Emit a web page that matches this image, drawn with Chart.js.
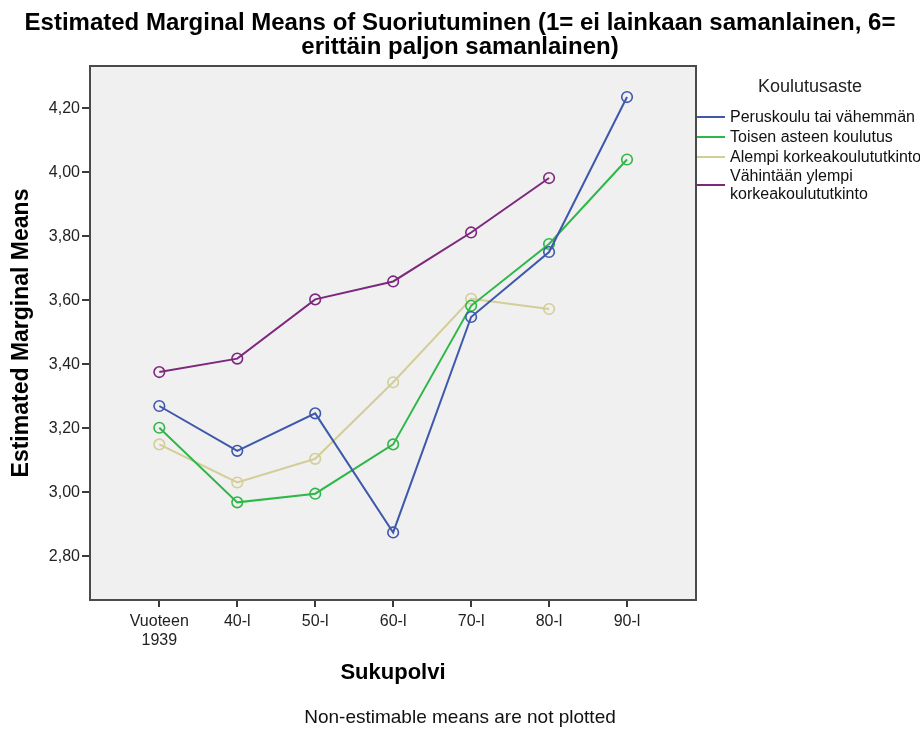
<!DOCTYPE html>
<html>
<head>
<meta charset="utf-8">
<script src="https://cdn.jsdelivr.net/npm/chart.js@4.4.1/dist/chart.umd.min.js"></script>
<style>
  html, body { margin: 0; padding: 0; background: #ffffff; }
  #wrap { width: 920px; height: 729px; position: relative; }
</style>
</head>
<body>
<div id="wrap"><canvas id="c" width="920" height="729"></canvas></div>
<script>
// ---- Data ----
const categories = ['Vuoteen 1939', '40-l', '50-l', '60-l', '70-l', '80-l', '90-l'];
const seriesNames = ['Peruskoulu tai vähemmän', 'Toisen asteen koulutus', 'Alempi korkeakoulututkinto', 'Vähintään ylempi korkeakoulututkinto'];
const peruskoulu = [3.27, 3.13, 3.247, 2.875, 3.548, 3.751, 4.235];
const toisenAsteen = [3.202, 2.969, 2.996, 3.15, 3.583, 3.776, 4.04];
const alempiKorkea = [3.15, 3.031, 3.105, 3.344, 3.605, 3.573, null];
const vahintaanYlempi = [3.376, 3.418, 3.603, 3.659, 3.812, 3.982, null];
const yTicks = [2.8, 3.0, 3.2, 3.4, 3.6, 3.8, 4.0, 4.2];

const titleLines = ['Estimated Marginal Means of Suoriutuminen (1= ei lainkaan samanlainen, 6=', 'erittäin paljon samanlainen)'];
const legendTitle = 'Koulutusaste';
const xTitle = 'Sukupolvi';
const yTitle = 'Estimated Marginal Means';
const footerText = 'Non-estimable means are not plotted';

const colors = ['#3E58AC', '#2EB848', '#D3CE97', '#7C287D'];
const seriesValues = [peruskoulu, toisenAsteen, alempiKorkea, vahintaanYlempi];
const FONT = '"Liberation Sans", Arial, sans-serif';

function toPoints(arr) {
  return arr.map((v, i) => ({ x: i, y: v }));
}

const datasets = seriesValues.map((vals, k) => ({
  label: seriesNames[k],
  data: toPoints(vals),
  borderColor: colors[k],
  backgroundColor: 'rgba(0,0,0,0)',
  borderWidth: 2,
  pointRadius: 5.3,
  pointBorderWidth: 1.6,
  pointBackgroundColor: 'rgba(0,0,0,0)',
  pointBorderColor: colors[k],
  tension: 0,
  spanGaps: false
}));

const decor = {
  id: 'decor',
  beforeDraw(chart) {
    const { ctx, chartArea: a } = chart;
    ctx.save();
    ctx.fillStyle = '#ffffff';
    ctx.fillRect(0, 0, chart.width, chart.height);
    ctx.fillStyle = '#f0f0f0';
    ctx.fillRect(a.left, a.top, a.right - a.left, a.bottom - a.top);
    ctx.restore();
  },
  afterDraw(chart) {
    const { ctx, chartArea: a } = chart;
    ctx.save();
    // plot border
    ctx.strokeStyle = '#4a4a4a';
    ctx.lineWidth = 2;
    ctx.strokeRect(a.left, a.top, a.right - a.left, a.bottom - a.top);
    // title
    ctx.fillStyle = '#000000';
    ctx.textAlign = 'center';
    ctx.textBaseline = 'alphabetic';
    ctx.font = 'bold 24px ' + FONT;
    ctx.fillText(titleLines[0], 460, 30);
    ctx.fillText(titleLines[1], 460, 54);
    // footer
    ctx.font = '19px ' + FONT;
    ctx.textBaseline = 'middle';
    ctx.fillStyle = '#111111';
    ctx.fillText(footerText, 460, 718);
    // legend
    ctx.fillStyle = '#222222';
    ctx.font = '18px ' + FONT;
    ctx.fillText(legendTitle, 810, 87);
    ctx.font = '16px ' + FONT;
    ctx.textAlign = 'left';
    const rows = [117, 137, 157, 185];
    chart.data.datasets.forEach((ds, i) => {
      const y = rows[i];
      ctx.strokeStyle = ds.borderColor;
      ctx.lineWidth = 2;
      ctx.beginPath();
      ctx.moveTo(697, y);
      ctx.lineTo(725, y);
      ctx.stroke();
      ctx.fillStyle = '#111111';
      if (i === 3) {
        ctx.fillText('Vähintään ylempi', 730, 177);
        ctx.fillText('korkeakoulututkinto', 730, 195);
      } else {
        ctx.fillText(ds.label, 730, y + 1);
      }
    });
    ctx.restore();
  }
};

new Chart(document.getElementById('c'), {
  type: 'line',
  data: { datasets },
  options: {
    responsive: false,
    animation: false,
    devicePixelRatio: 1,
    layout: { padding: { top: 66, right: 224, bottom: 40, left: 0 } },
    plugins: {
      legend: { display: false },
      title: { display: false },
      tooltip: { enabled: false }
    },
    scales: {
      x: {
        type: 'linear',
        min: -0.889,
        max: 6.885,
        afterFit(scale) { scale.height = 89; },
        afterBuildTicks(scale) { scale.ticks = categories.map((c, i) => ({ value: i })); },
        ticks: {
          autoSkip: false,
          maxRotation: 0,
          padding: 5,
          color: '#222222',
          font: { family: FONT, size: 16 },
          callback: (v) => { const c = categories[v]; return c && c.indexOf(' ') > 0 ? c.split(' ') : c; }
        },
        grid: { drawOnChartArea: false, drawTicks: true, tickLength: 7, color: '#3a3a3a', lineWidth: 2 },
        border: { display: false },
        title: { display: true, text: xTitle, color: '#000000', font: { family: FONT, size: 22, weight: 'bold' }, padding: { top: 0, bottom: 3 } }
      },
      y: {
        type: 'linear',
        min: 2.664,
        max: 4.332,
        afterFit(scale) { scale.width = 90; },
        afterBuildTicks(scale) { scale.ticks = yTicks.map(v => ({ value: v })); },
        ticks: {
          padding: 2,
          color: '#222222',
          font: { family: FONT, size: 16 },
          callback: (v) => v.toFixed(2).replace('.', ',')
        },
        grid: { drawOnChartArea: false, drawTicks: true, tickLength: 8, color: '#3a3a3a', lineWidth: 2 },
        border: { display: false },
        title: { display: true, text: yTitle, color: '#000000', font: { family: FONT, size: 23, weight: 'bold' }, padding: { top: 8, bottom: 0 } }
      }
    }
  },
  plugins: [decor]
});
</script>
</body>
</html>
